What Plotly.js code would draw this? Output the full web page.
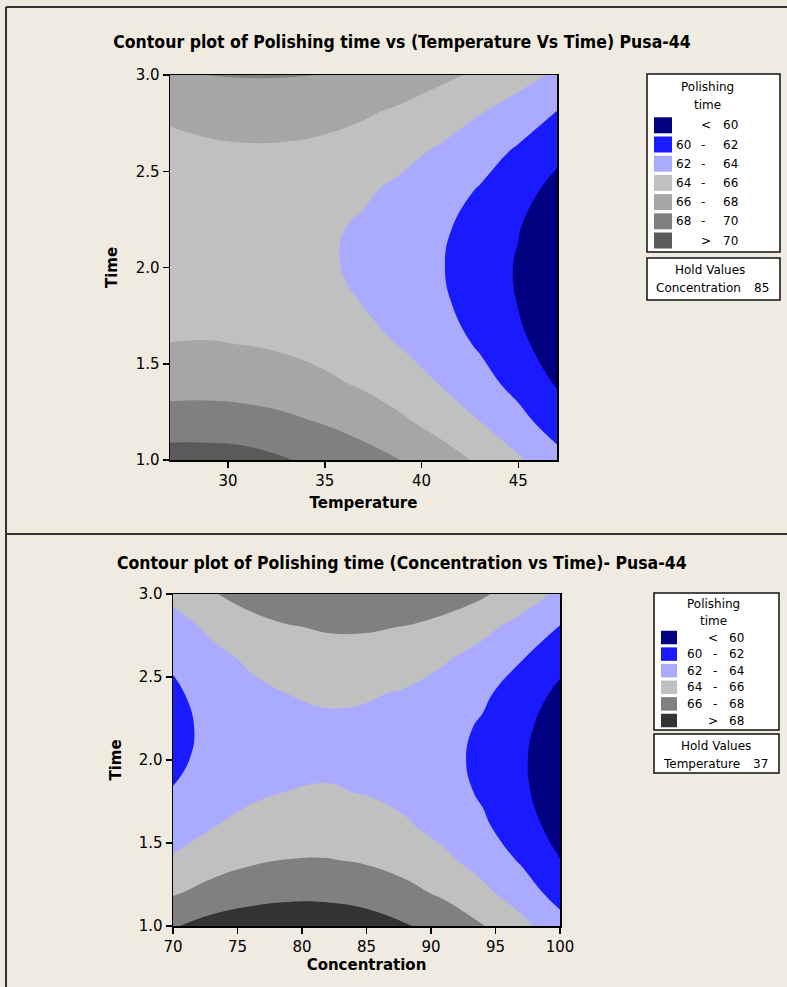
<!DOCTYPE html>
<html><head><meta charset="utf-8">
<script src="https://cdn.plot.ly/plotly-3.0.1.min.js"></script>
<style>html,body{margin:0;padding:0;background:#efebe1;} #chart{width:787px;height:987px;}</style>
</head><body><div id="chart"></div>
<script>
// ---------- DATA ----------
const temperature = [27, 29, 31, 33, 35, 37, 39, 41, 43, 45, 47];
const timeValues = [1.0, 1.2, 1.4, 1.6, 1.8, 2.0, 2.2, 2.4, 2.6, 2.8, 3.0];
// Polishing time, rows = time (1.0 -> 3.0), cols = temperature (27 -> 47), hold concentration 85
const polishTempTime = [
  [70.95, 70.92, 70.72, 70.10, 69.50, 68.80, 67.95, 66.90, 65.70, 64.25, 62.64],
  [68.87, 68.88, 68.71, 68.37, 67.85, 67.15, 66.28, 65.23, 64.01, 62.61, 61.04],
  [67.22, 67.27, 67.15, 66.85, 66.37, 65.72, 64.89, 63.89, 62.71, 61.35, 59.82],
  [66.05, 66.10, 65.97, 65.71, 65.28, 64.67, 63.88, 62.92, 61.78, 60.47, 58.98],
  [65.07, 65.20, 65.16, 64.95, 64.56, 63.99, 63.24, 62.33, 61.23, 59.96, 58.51],
  [64.55, 64.73, 64.74, 64.56, 64.22, 63.69, 62.99, 62.11, 61.06, 59.83, 58.43],
  [64.42, 64.64, 64.69, 64.56, 64.25, 63.77, 63.11, 62.28, 61.27, 60.08, 58.72],
  [64.67, 64.93, 65.02, 64.93, 64.67, 64.23, 63.61, 62.82, 61.86, 60.71, 59.39],
  [65.29, 65.60, 65.73, 65.69, 65.46, 65.07, 64.45, 63.74, 62.82, 61.72, 60.44],
  [66.35, 66.70, 66.86, 66.84, 66.64, 66.20, 65.60, 64.90, 64.05, 63.05, 61.87],
  [67.68, 68.02, 68.10, 68.08, 67.98, 67.70, 67.10, 66.40, 65.70, 64.75, 63.68]
];
const concentration = [70, 73, 76, 79, 82, 85, 88, 91, 94, 97, 100];
// Polishing time, rows = time (1.0 -> 3.0), cols = concentration (70 -> 100), hold temperature 37
const polishConcTime = [
  [67.85, 68.70, 69.15, 69.32, 69.26, 68.91, 68.15, 67.32, 66.09, 64.57, 62.75],
  [65.80, 66.66, 67.22, 67.50, 67.48, 67.16, 66.56, 65.66, 64.47, 62.99, 61.21],
  [64.21, 65.11, 65.71, 66.03, 66.05, 65.78, 65.21, 64.36, 63.21, 61.77, 60.03],
  [62.98, 63.92, 64.56, 64.92, 64.98, 64.75, 64.23, 63.41, 62.31, 60.91, 59.21],
  [62.11, 63.05, 63.70, 64.05, 64.12, 63.95, 63.50, 62.80, 61.77, 60.41, 58.76],
  [61.60, 62.55, 63.20, 63.60, 63.72, 63.60, 63.20, 62.55, 61.59, 60.27, 58.66],
  [61.46, 62.45, 63.15, 63.58, 63.72, 63.62, 63.28, 62.68, 61.78, 60.50, 58.93],
  [61.67, 62.78, 63.55, 64.02, 64.22, 64.15, 63.85, 63.22, 62.32, 61.09, 59.56],
  [62.25, 63.40, 64.25, 64.81, 65.08, 65.06, 64.74, 64.13, 63.23, 62.03, 60.55],
  [63.19, 64.38, 65.27, 65.88, 66.19, 66.20, 65.93, 65.36, 64.50, 63.34, 61.90],
  [64.49, 65.85, 66.80, 67.40, 67.70, 67.75, 67.55, 67.05, 66.25, 65.02, 63.61]
];
const levels1 = [60, 62, 64, 66, 68, 70];
const levels2 = [60, 62, 64, 66, 68];
const colors1 = ['#000080', '#1a1aff', '#aaaaff', '#c0c0c0', '#a6a6a6', '#808080', '#5a5a5a'];
const colors2 = ['#000080', '#1a1aff', '#aaaaff', '#c0c0c0', '#808080', '#333333'];
const title1 = 'Contour plot of Polishing time vs (Temperature Vs Time) Pusa-44';
const title2 = 'Contour plot of Polishing time (Concentration vs Time)- Pusa-44';
const legendTitle = ['Polishing', 'time'];
const hold1 = ['Concentration', '85'];
const hold2 = ['Temperature', '37'];

// ---------- HELPERS ----------
const W = 787, H = 987;
const px = v => v / W;
const py = v => 1 - v / H;
const BG = '#efebe1';
const FONT = 'DejaVu Sans, Verdana, sans-serif';
const TFONT = 'DejaVu Sans Condensed, DejaVu Sans, sans-serif';

function stepScale(cols) {
  const n = cols.length - 1, s = [];
  cols.forEach((c, i) => {
    s.push([i === 0 ? 0 : (i - 0.5) / n, c]);
    s.push([i === n ? 1 : (i + 0.5) / n, c]);
  });
  return s;
}

function contourTrace(x, y, z, levels, cols, xa, ya) {
  return {
    type: 'contour', x: x, y: y, z: z, xaxis: xa, yaxis: ya,
    colorscale: stepScale(cols), showscale: false, hoverinfo: 'skip',
    contours: {start: levels[0], end: levels[levels.length - 1], size: levels[1] - levels[0],
               coloring: 'fill', showlines: false},
    line: {width: 0, smoothing: 1.3}
  };
}

const shapes = [], annotations = [];
function rect(x0, y0, x1, y1, fill, lw) {
  shapes.push({type: 'rect', xref: 'paper', yref: 'paper', x0: px(x0), x1: px(x1), y0: py(y1), y1: py(y0),
    fillcolor: fill, line: {color: fill === 'white' ? '#111' : fill, width: lw}});
}
function text(t, x, y, anchor, size, bold) {
  annotations.push({xref: 'paper', yref: 'paper', x: px(x), y: py(y), text: bold ? '<b>' + t + '</b>' : t,
    showarrow: false, xanchor: anchor, yanchor: 'middle', font: {family: FONT, size: size, color: '#000'}});
}

function legend(cfg, levels, cols, hold) {
  rect(cfg.x0, cfg.y0, cfg.x1, cfg.y1, 'white', 1.5);
  text(legendTitle[0], cfg.cx, cfg.t1, 'center', 12);
  text(legendTitle[1], cfg.cx, cfg.t2, 'center', 12);
  cols.forEach((c, i) => {
    const yc = cfg.r0 + i * cfg.dr;
    rect(cfg.sx0, yc - cfg.sh / 2, cfg.sx1, yc + cfg.sh / 2, c, 0);
    if (i === 0) {
      text('<', cfg.sym, yc, 'center', 12);
      text(String(levels[0]), cfg.rn, yc, 'right', 12);
    } else if (i === cols.length - 1) {
      text('>', cfg.sym, yc, 'center', 12);
      text(String(levels[levels.length - 1]), cfg.rn, yc, 'right', 12);
    } else {
      text(String(levels[i - 1]), cfg.ln, yc, 'right', 12);
      text('-', cfg.dash, yc, 'center', 12);
      text(String(levels[i]), cfg.rn, yc, 'right', 12);
    }
  });
  rect(cfg.x0, cfg.h0, cfg.x1, cfg.h1, 'white', 1.5);
  text('Hold Values', cfg.cx + 3, cfg.h0 + 12, 'center', 12);
  text(hold[0], cfg.x0 + 7, cfg.h0 + 30, 'left', 12);
  text(hold[1], cfg.x1 - 9, cfg.h0 + 30, 'right', 12);
}

legend({x0: 647, y0: 74, x1: 780, y1: 252, cx: 707, t1: 87, t2: 105,
        r0: 125.3, dr: 19.2, sh: 16, sx0: 654, sx1: 672, sym: 706, ln: 693, dash: 703, rn: 740,
        h0: 258, h1: 300}, levels1, colors1, hold1);
legend({x0: 654, y0: 593, x1: 779, y1: 730, cx: 713, t1: 604, t2: 621,
        r0: 637.5, dr: 16.6, sh: 13.5, sx0: 661, sx1: 677, sym: 713, ln: 704, dash: 715, rn: 746,
        h0: 734, h1: 773}, levels2, colors2, hold2);

// frame lines
shapes.push({type: 'line', xref: 'paper', yref: 'paper', x0: px(6), x1: px(6), y0: 0, y1: py(7), line: {color: '#333', width: 2}});
shapes.push({type: 'line', xref: 'paper', yref: 'paper', x0: px(6), x1: 1, y0: py(7), y1: py(7), line: {color: '#333', width: 2}});
shapes.push({type: 'line', xref: 'paper', yref: 'paper', x0: px(6), x1: 1, y0: py(534), y1: py(534), line: {color: '#333', width: 2}});

annotations.push({xref: 'paper', yref: 'paper', x: px(402), y: py(563), text: '<b>' + title2 + '</b>', showarrow: false,
  xanchor: 'center', yanchor: 'middle', font: {family: TFONT, size: 17.5, color: '#000'}});

function axis(domain, range, dtick, title, fmt, standoff) {
  return {domain: domain, range: range, dtick: dtick, tick0: 0, tickformat: fmt, showgrid: false, zeroline: false,
    showline: true, linecolor: '#000', linewidth: 1.5, mirror: true, ticks: 'outside', ticklen: 6, tickwidth: 1.5,
    tickcolor: '#000', tickfont: {family: FONT, size: 15, color: '#000'},
    title: {text: '<b>' + title + '</b>', standoff: standoff, font: {family: FONT, size: 15, color: '#000'}}};
}

const layout = {
  width: W, height: H, margin: {l: 0, r: 0, t: 0, b: 0},
  paper_bgcolor: BG, plot_bgcolor: BG, showlegend: false,
  title: {text: '<b>' + title1 + '</b>', x: px(402), xanchor: 'center', y: py(41.5), yanchor: 'middle',
          font: {family: TFONT, size: 17.5, color: '#000'}},
  xaxis: Object.assign(axis([px(170), px(557)], [27, 47], 5, 'Temperature', 'd', 9), {anchor: 'y'}),
  yaxis: Object.assign(axis([py(460), py(75)], [1, 3], 0.5, 'Time', '.1f', 14), {anchor: 'x'}),
  xaxis2: Object.assign(axis([px(173), px(560)], [70, 100], 5, 'Concentration', 'd', 0), {anchor: 'y2'}),
  yaxis2: Object.assign(axis([py(926), py(594)], [1, 3], 0.5, 'Time', '.1f', 13), {anchor: 'x2'}),
  shapes: shapes, annotations: annotations
};

Plotly.newPlot('chart', [
  contourTrace(temperature, timeValues, polishTempTime, levels1, colors1, 'x', 'y'),
  contourTrace(concentration, timeValues, polishConcTime, levels2, colors2, 'x2', 'y2')
], layout, {staticPlot: true, displayModeBar: false});
</script></body></html>
